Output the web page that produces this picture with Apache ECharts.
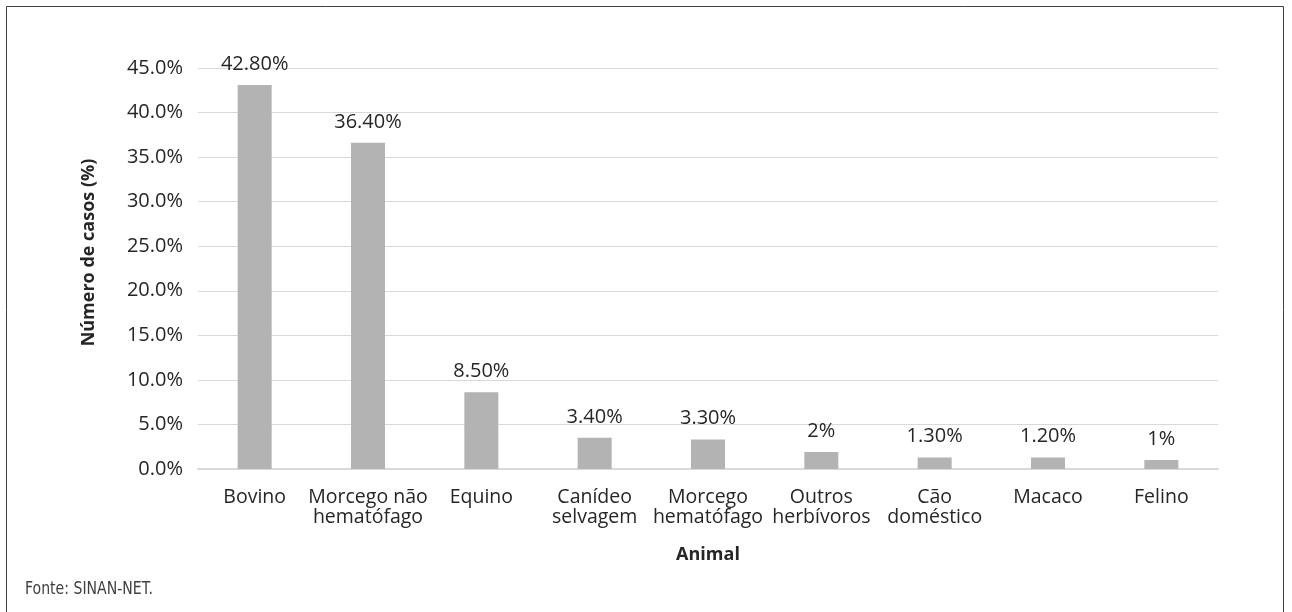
<!DOCTYPE html>
<html>
<head>
<meta charset="utf-8">
<script src="https://cdn.jsdelivr.net/npm/echarts@6/dist/echarts.min.js"></script>
<style>
html,body{margin:0;padding:0;background:#fff;}
#chart{width:1292px;height:612px;}
</style>
</head>
<body>
<div id="chart"></div>
<script>
var categories = ['Bovino', 'Morcego não\nhematófago', 'Equino', 'Canídeo\nselvagem', 'Morcego\nhematófago', 'Outros\nherbívoros', 'Cão\ndoméstico', 'Macaco', 'Felino'];
var values = [43.1, 36.6, 8.6, 3.5, 3.3, 1.9, 1.3, 1.3, 1.0];
var valueLabels = ['42.80%', '36.40%', '8.50%', '3.40%', '3.30%', '2%', '1.30%', '1.20%', '1%'];
var yTicks = { min: 0, max: 45, interval: 5 };
var xTitle = 'Animal';
var yTitle = 'Número de casos (%)';
var footer = 'Fonte: SINAN-NET.';

var FONT = '"Open Sans", "Noto Sans", sans-serif';
var TXT = '#262626';
var chart = echarts.init(document.getElementById('chart'), null, { renderer: 'canvas' });
chart.setOption({
  animation: false,
  backgroundColor: '#fff',
  textStyle: { fontFamily: FONT, color: TXT },
  grid: { left: 198, right: 74, top: 68, bottom: 143, containLabel: false },
  xAxis: {
    type: 'category',
    data: categories,
    name: xTitle,
    nameLocation: 'middle',
    nameGap: 77,
    nameTextStyle: { fontFamily: FONT, fontSize: 18, fontWeight: 'bold', color: TXT },
    axisLine: { show: true, lineStyle: { color: '#d9d9d9', width: 2 } },
    axisTick: { show: false },
    axisLabel: { interval: 0, fontFamily: FONT, fontSize: 19.5, color: TXT, lineHeight: 20, margin: 18 }
  },
  yAxis: {
    type: 'value',
    min: yTicks.min,
    max: yTicks.max,
    interval: yTicks.interval,
    name: yTitle,
    nameLocation: 'middle',
    nameGap: 100,
    nameTextStyle: { fontFamily: FONT, fontSize: 18, fontWeight: 'bold', color: TXT, padding: [0, 0, 0, 32] },
    axisLine: { show: false },
    axisTick: { show: false },
    splitLine: { lineStyle: { color: '#d9d9d9', width: 1 } },
    axisLabel: { fontFamily: FONT, fontSize: 20, color: TXT, margin: 15,
      formatter: function (v) { return v.toFixed(1) + '%'; } }
  },
  series: [{
    type: 'bar',
    data: values,
    barWidth: 34,
    itemStyle: { color: '#b3b3b3' },
    label: {
      show: true, position: 'top', distance: 11,
      fontFamily: FONT, fontSize: 20, color: TXT,
      formatter: function (p) { return valueLabels[p.dataIndex]; }
    }
  }],
  graphic: [
    { type: 'rect', shape: { x: 6.5, y: 6.5, width: 1277, height: 700 },
      style: { fill: 'none', stroke: '#404040', lineWidth: 1 }, silent: true },
    { type: 'text', x: 25, y: 581, scaleX: 0.92,
      style: { text: footer, font: '17px "Liberation Sans Narrow", "DejaVu Sans Condensed", sans-serif', fill: '#404040' } }
  ]
});
</script>
</body>
</html>
